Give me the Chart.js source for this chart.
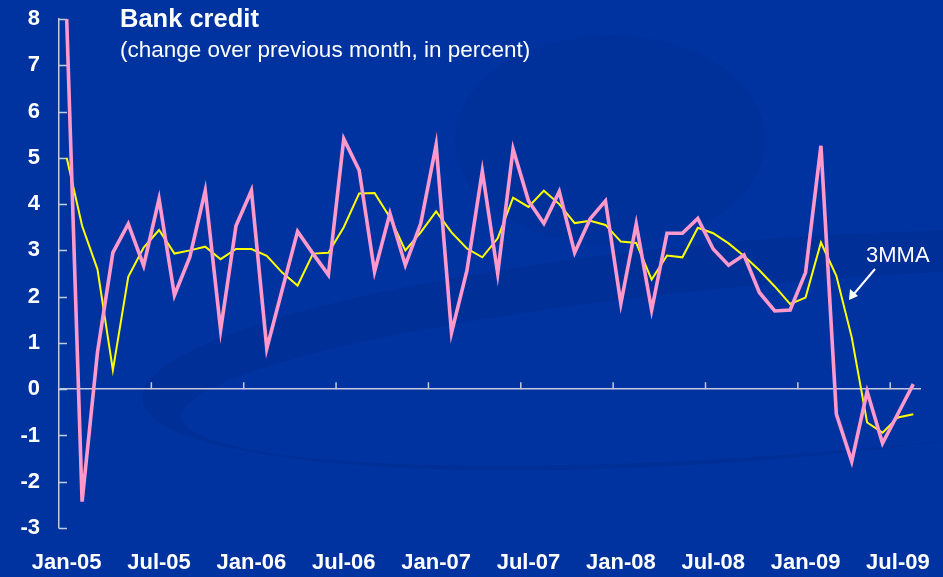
<!DOCTYPE html>
<html>
<head>
<meta charset="utf-8">
<script src="https://cdn.jsdelivr.net/npm/chart.js@4.4.1/dist/chart.umd.min.js"></script>
<style>
  html, body { margin: 0; padding: 0; background: #0033a0; }
  #wrap { width: 943px; height: 577px; }
</style>
</head>
<body>
<div id="wrap"><canvas id="chart" width="943" height="577"></canvas></div>
<script>
const months = [
  'Jan-05', 'Feb-05', 'Mar-05', 'Apr-05', 'May-05', 'Jun-05', 'Jul-05', 'Aug-05', 'Sep-05', 'Oct-05', 'Nov-05', 'Dec-05',
  'Jan-06', 'Feb-06', 'Mar-06', 'Apr-06', 'May-06', 'Jun-06', 'Jul-06', 'Aug-06', 'Sep-06', 'Oct-06', 'Nov-06', 'Dec-06',
  'Jan-07', 'Feb-07', 'Mar-07', 'Apr-07', 'May-07', 'Jun-07', 'Jul-07', 'Aug-07', 'Sep-07', 'Oct-07', 'Nov-07', 'Dec-07',
  'Jan-08', 'Feb-08', 'Mar-08', 'Apr-08', 'May-08', 'Jun-08', 'Jul-08', 'Aug-08', 'Sep-08', 'Oct-08', 'Nov-08', 'Dec-08',
  'Jan-09', 'Feb-09', 'Mar-09', 'Apr-09', 'May-09', 'Jun-09', 'Jul-09', 'Aug-09'
]

// month-on-month change, percent
const monthly = [
  8.0, -2.43, 0.8, 2.95, 3.57, 2.67, 4.11, 2.03, 2.86, 4.29, 1.28, 3.53,
  4.29, 0.88, 2.15, 3.41, 2.93, 2.47, 5.41, 4.73, 2.54, 3.80, 2.68, 3.58,
  5.28, 1.22, 2.56, 4.71, 2.50, 5.19, 4.07, 3.58, 4.27, 2.95, 3.68, 4.07,
  1.85, 3.57, 1.71, 3.37, 3.37, 3.69, 3.03, 2.68, 2.90, 2.09, 1.69, 1.71,
  2.52, 5.26, -0.54, -1.56, -0.05, -1.17, -0.53, 0.11
]

// three-month moving average
const mma3 = [
  5.0, 3.53, 2.59, 0.41, 2.43, 3.06, 3.44, 2.93, 3.0, 3.08, 2.81, 3.03,
  3.03, 2.88, 2.52, 2.24, 2.93, 2.95, 3.5, 4.23, 4.24, 3.71, 3.0, 3.39,
  3.84, 3.39, 3.04, 2.85, 3.26, 4.14, 3.94, 4.29, 4.0, 3.59, 3.64, 3.55,
  3.19, 3.16, 2.37, 2.89, 2.85, 3.49, 3.37, 3.15, 2.88, 2.57, 2.22, 1.84,
  1.98, 3.17, 2.45, 1.12, -0.72, -0.94, -0.61, -0.54
]

const yMin = -3
const yMax = 8

const bg = '#0033a0'
const axisColor = '#c3c9e0'
const fontFamily = '"Liberation Sans", Arial, sans-serif'

// backdrop fill and the faint swoosh behind the plot
const backdrop = {
  id: 'backdrop',
  beforeDraw(chart) {
    const c = chart.ctx
    c.save()
    c.fillStyle = bg
    c.fillRect(0, 0, chart.width, chart.height)

    c.fillStyle = '#00319b'
    c.beginPath()
    c.ellipse(610, 140, 155, 105, 0, 0, Math.PI * 2)
    c.fill()

    c.fillStyle = '#002f97'
    c.beginPath()
    c.ellipse(760, 350, 620, 110, -0.08, 0, Math.PI * 2)
    c.fill()
    c.fillStyle = bg
    c.beginPath()
    c.ellipse(820, 366, 640, 86, -0.08, 0, Math.PI * 2)
    c.fill()
    c.restore()
  },
  beforeDatasetsDraw(chart) {
    const c = chart.ctx
    const x = chart.scales.x
    const y = chart.scales.y
    const y0 = y.getPixelForValue(0)
    c.save()
    c.strokeStyle = axisColor
    c.lineWidth = 1.5
    c.beginPath()
    // inward ticks on the value axis
    y.ticks.forEach((t) => {
      const py = Math.round(y.getPixelForValue(t.value)) + 0.5
      c.moveTo(x.left, py)
      c.lineTo(x.left + 8, py)
    })
    // half-year ticks standing on the zero line
    for (let i = 6; i < months.length; i += 6) {
      const px = (x.getPixelForValue(i) + x.getPixelForValue(i - 1)) / 2
      c.moveTo(px, y0)
      c.lineTo(px, y0 - 7)
    }
    c.stroke()
    c.restore()
  },
  afterDraw(chart) {
    const c = chart.ctx
    c.save()
    c.fillStyle = '#ffffff'
    c.textBaseline = 'alphabetic'
    c.font = 'bold 25.5px ' + fontFamily
    c.fillText('Bank credit', 120, 27)
    c.font = '22.5px ' + fontFamily
    c.fillText('(change over previous month, in percent)', 120, 57)

    c.font = '22px ' + fontFamily
    c.fillText('3MMA', 866, 262)

    // arrow pointing at the moving average
    c.strokeStyle = '#ffffff'
    c.lineWidth = 2
    c.beginPath()
    c.moveTo(875, 269)
    c.lineTo(853, 295)
    c.stroke()
    c.beginPath()
    c.moveTo(849, 300)
    c.lineTo(850, 289)
    c.lineTo(858, 296)
    c.closePath()
    c.fill()
    c.restore()
  }
}

const ctx = document.getElementById('chart').getContext('2d')

const chart = new Chart(ctx, {
  type: 'line',
  data: {
    labels: months,
    datasets: [
      {
        label: 'Bank credit',
        data: monthly,
        borderColor: '#ff99cc',
        borderWidth: 3.6,
        pointRadius: 0,
        tension: 0,
      },
      {
        label: '3MMA',
        data: mma3,
        borderColor: '#ffff00',
        borderWidth: 2,
        pointRadius: 0,
        tension: 0,
      },
    ],
  },
  options: {
    responsive: false,
    animation: false,
    layout: { padding: { left: 0, right: 22, top: 19, bottom: 0 } },
    plugins: {
      legend: { display: false },
      tooltip: { enabled: false },
    },
    scales: {
      x: {
        offset: true,
        grid: { display: false },
        border: { display: false },
        ticks: {
          color: '#ffffff',
          font: { family: fontFamily, size: 22, weight: 'bold' },
          autoSkip: false,
          maxRotation: 0,
          padding: 14,
          callback: (v, i) => (i % 6 === 0 ? months[i] : null),
        },
        afterFit: (s) => {
          s.height = 49
          s.paddingLeft = 0
          s.paddingRight = 0
        },
      },
      y: {
        min: yMin,
        max: yMax,
        ticks: {
          stepSize: 1,
          color: '#ffffff',
          font: { family: fontFamily, size: 22, weight: 'bold' },
          padding: 19,
        },
        grid: {
          drawTicks: false,
          color: (c) => (c.tick && c.tick.value === 0 ? axisColor : 'rgba(0,0,0,0)'),
          lineWidth: 1.5,
        },
        border: { color: axisColor, width: 1.5 },
        afterFit: (s) => {
          s.width = 59
          s.paddingTop = 0
          s.paddingBottom = 0
        },
      },
    },
  },
  plugins: [backdrop],
})
</script>
</body>
</html>
